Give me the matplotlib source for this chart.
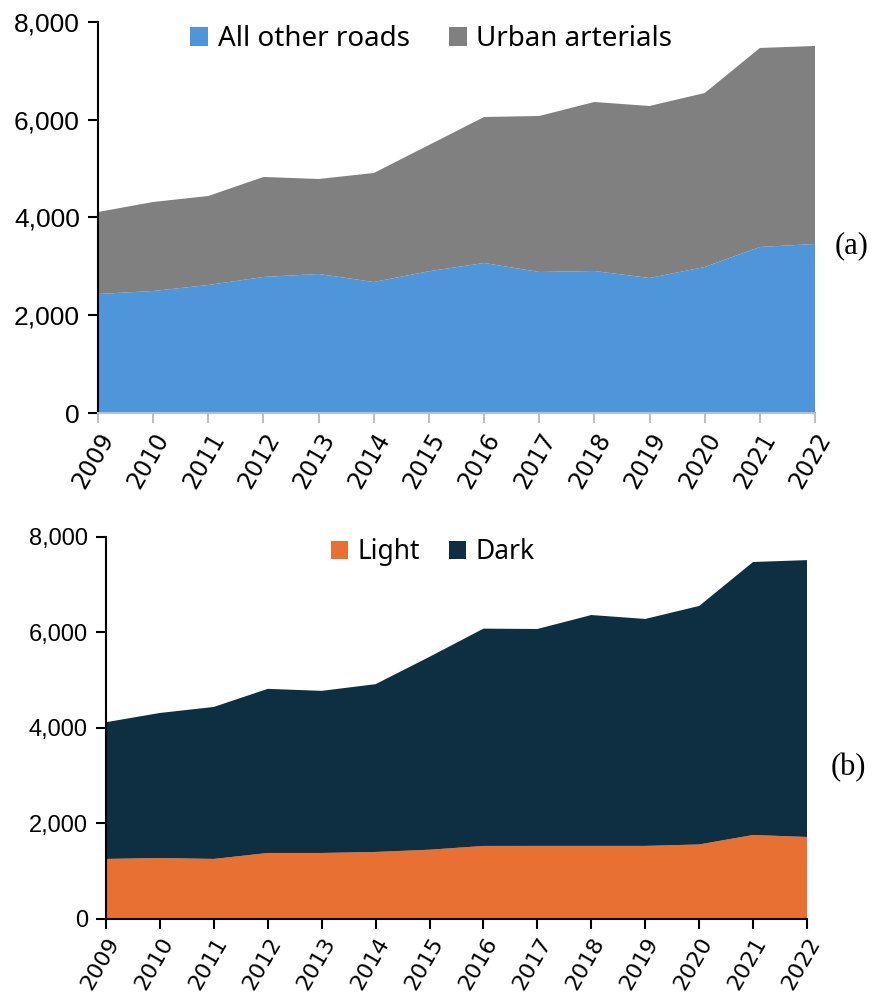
import matplotlib
matplotlib.use("Agg")
import matplotlib.pyplot as plt
from matplotlib.ticker import FuncFormatter

plt.rcParams["font.family"] = ["Liberation Sans", "DejaVu Sans"]

years = list(range(2009, 2023))

# (a) road type
other_roads = [2435, 2496, 2619, 2783, 2844, 2680, 2900, 3069, 2885, 2905, 2762, 2987, 3396, 3458]
urban_arterials = [1677, 1821, 1821, 2046, 1944, 2230, 2583, 2987, 3192, 3458, 3519, 3560, 4072, 4051]

# (b) lighting
light = [1257, 1277, 1257, 1382, 1382, 1403, 1450, 1529, 1530, 1530, 1530, 1560, 1759, 1717]
dark = [2863, 3037, 3183, 3437, 3395, 3514, 4040, 4551, 4543, 4835, 4753, 4995, 5717, 5798]

c_blue = "#4E95D9"
c_gray = "#808080"
c_orange = "#E87033"
c_navy = "#0E2F42"

fig = plt.figure(figsize=(8.73, 9.94), dpi=100)
ax1 = fig.add_axes([0.1123, 0.5845, 0.8213, 0.3934])
ax2 = fig.add_axes([0.1214, 0.0755, 0.8030, 0.3843])

thousands = FuncFormatter(lambda v, p: f"{int(v):,}")


def style_axes(ax, ysize, xsize, xcolor, xfont):
    ax.set_xlim(years[0], years[-1])
    ax.set_ylim(0, 8000)
    ax.set_yticks([0, 2000, 4000, 6000, 8000])
    ax.yaxis.set_major_formatter(thousands)
    ax.set_xticks(years)
    ax.set_xticklabels([str(y) for y in years], rotation=60, ha="right",
                       rotation_mode="anchor", fontsize=xsize, family=xfont)
    for s in ["top", "right"]:
        ax.spines[s].set_visible(False)
    ax.spines["left"].set_linewidth(1.5)
    ax.spines["left"].set_color("black")
    ax.spines["bottom"].set_color(xcolor)
    ax.spines["bottom"].set_linewidth(1.5)
    ax.tick_params(axis="y", length=7, width=1.5, color="black", pad=6, labelsize=ysize)
    ax.tick_params(axis="x", length=7, width=1.5, color=xcolor, pad=4)


ax1.stackplot(years, other_roads, urban_arterials, colors=[c_blue, c_gray],
              labels=["All other roads", "Urban arterials"], edgecolor="none")
style_axes(ax1, 19, 17, "#BFBFBF", "DejaVu Sans")
ax1.legend(loc="upper center", bbox_to_anchor=(0.494, 1.0), bbox_transform=fig.transFigure,
           ncol=2, frameon=False, prop={"family": "Noto Sans", "size": 20},
           handlelength=0.65, handleheight=0.65, handletextpad=0.35, columnspacing=1.4)

ax2.stackplot(years, light, dark, colors=[c_orange, c_navy],
              labels=["Light", "Dark"], edgecolor="none")
style_axes(ax2, 17, 16, "black", "DejaVu Sans")
ax2.legend(loc="upper center", bbox_to_anchor=(0.496, 0.4825), bbox_transform=fig.transFigure,
           ncol=2, frameon=False, prop={"family": "Noto Sans", "size": 19},
           handlelength=0.65, handleheight=0.65, handletextpad=0.35, columnspacing=1.1)

fig.text(0.976, 0.753, "(a)", family="Liberation Serif", fontsize=22, ha="center", va="center")
fig.text(0.972, 0.228, "(b)", family="Liberation Serif", fontsize=22, ha="center", va="center")

fig.savefig("out.png", dpi=100, facecolor="white")
